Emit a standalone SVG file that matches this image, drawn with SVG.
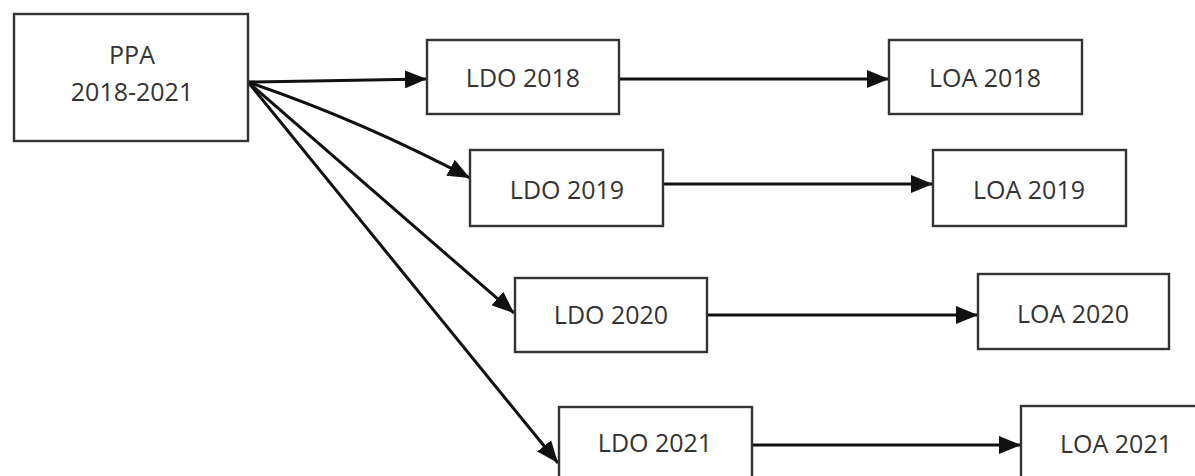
<svg xmlns="http://www.w3.org/2000/svg" width="1195" height="476" viewBox="0 0 1195 476">
<defs>
<style>
.box{fill:#fff;stroke:#333;stroke-width:2.4}
.lbl{font-family:"Open Sans","Liberation Sans",sans-serif;font-size:25px;fill:#333;text-anchor:middle}
.con{stroke:#111;stroke-width:3;fill:none;marker-end:url(#ah)}
</style>
<marker id="ah" viewBox="0 0 22 18" refX="22" refY="9" markerWidth="22" markerHeight="18" markerUnits="userSpaceOnUse" orient="auto">
<path d="M0,0 L22,9 L0,18 z" fill="#111"/>
</marker>
</defs>
<rect width="1195" height="476" fill="#fff"/>
<g id="connectors">
<line class="con" x1="248" y1="82" x2="427" y2="79"/>
<path class="con" d="M248,82 Q360,120 470,178"/>
<line class="con" x1="248" y1="82" x2="514" y2="313"/>
<line class="con" x1="248" y1="82" x2="558" y2="463"/>
<line class="con" x1="619" y1="79" x2="889" y2="79"/>
<line class="con" x1="663" y1="184" x2="933" y2="184"/>
<line class="con" x1="707" y1="315" x2="978" y2="315"/>
<line class="con" x1="752" y1="445" x2="1021" y2="445"/>
</g>
<g id="ppa">
<rect class="box" x="14" y="14" width="234" height="127"/>
<text class="lbl" x="132" y="64">PPA</text>
<text class="lbl" x="132" y="101">2018-2021</text>
</g>
<g id="ldo2018">
<rect class="box" x="427" y="40" width="192" height="74"/>
<text class="lbl" x="523" y="87">LDO 2018</text>
</g>
<g id="loa2018">
<rect class="box" x="889" y="40" width="193" height="74"/>
<text class="lbl" x="985" y="87">LOA 2018</text>
</g>
<g id="ldo2019">
<rect class="box" x="470" y="150" width="193" height="76"/>
<text class="lbl" x="567" y="199">LDO 2019</text>
</g>
<g id="loa2019">
<rect class="box" x="933" y="150" width="193" height="76"/>
<text class="lbl" x="1029" y="199">LOA 2019</text>
</g>
<g id="ldo2020">
<rect class="box" x="515" y="278" width="192" height="74"/>
<text class="lbl" x="611" y="324">LDO 2020</text>
</g>
<g id="loa2020">
<rect class="box" x="978" y="274" width="191" height="75"/>
<text class="lbl" x="1073" y="323">LOA 2020</text>
</g>
<g id="ldo2021">
<rect class="box" x="559" y="407" width="193" height="80"/>
<text class="lbl" x="655" y="452">LDO 2021</text>
</g>
<g id="loa2021">
<rect class="box" x="1021" y="406" width="193" height="80"/>
<text class="lbl" x="1116" y="453">LOA 2021</text>
</g>
</svg>
